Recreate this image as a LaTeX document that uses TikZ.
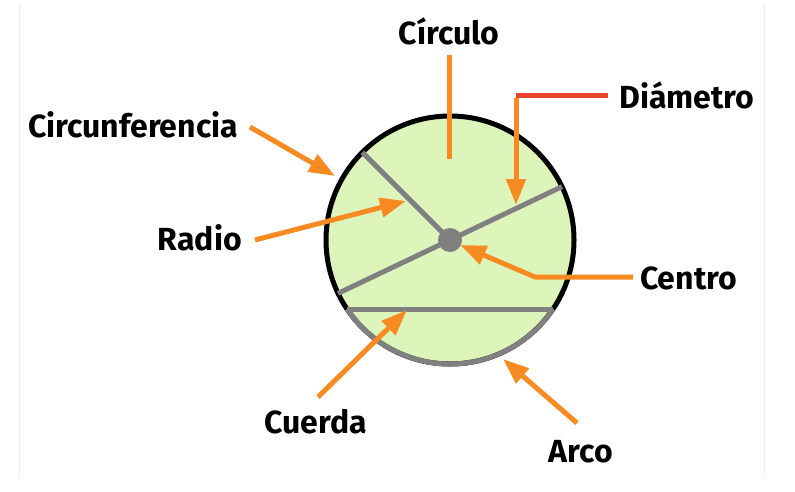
\documentclass[tikz,border=0pt]{standalone}
\usepackage{fontspec}
\setmainfont{Fira Sans}
\usetikzlibrary{arrows.meta,calc}
\definecolor{fillgreen}{HTML}{DDF5BB}
\definecolor{arrorange}{HTML}{F88A22}
\definecolor{linered}{HTML}{E8452C}
\definecolor{linegray}{HTML}{808080}
\definecolor{framegray}{HTML}{EEEEEE}
\tikzset{
  lbl/.style={font=\fontsize{32}{32}\selectfont\bfseries, text=black, inner sep=0pt},
  pointer/.style={draw=arrorange, line width=5pt, -{Triangle[length=26pt,width=19pt]}},
  plainline/.style={draw=arrorange, line width=5pt},
  geom/.style={draw=linegray, line width=5pt},
}
\begin{document}
\begin{tikzpicture}[x=1pt,y=-1pt]
\useasboundingbox (0,0) rectangle (795,491);
\fill[white] (0,0) rectangle (795,491);
% faint frame
\coordinate (fl1) at (19.5,3); \coordinate (fl2) at (19.5,478);
\coordinate (fr1) at (764,3); \coordinate (fr2) at (764,478);
\draw[framegray, line width=1pt] (fl1) -- (fl2);
\draw[framegray, line width=1pt] (fr1) -- (fr2);
% circle
\coordinate (O) at (450,240);
\fill[fillgreen] (O) circle (124);
\draw[black, line width=5pt] (O) circle (124);
% geometric elements
\coordinate (radend) at (362.3,152.3);
\coordinate (diamA) at (562,186.6);
\coordinate (diamB) at (338,293.4);
\coordinate (chordL) at (347,309);
\coordinate (chordR) at (553,309);
\draw[geom] (chordL) arc[start angle=146.2, end angle=33.8, radius=124];
\draw[geom] (radend) -- (O);
\draw[geom] (diamB) -- (diamA);
\draw[geom] (chordL) -- (chordR);
\fill[linegray] (O) circle (12);
% labels
\node[lbl, anchor=base] (circulo) at (449,44) {Círculo};
\node[lbl, anchor=base west] (diametro) at (619,108) {Diámetro};
\node[lbl, anchor=base west] (circunf) at (28,137) {Circunferencia};
\node[lbl, anchor=base east] (radio) at (242,250) {Radio};
\node[lbl, anchor=base west] (centro) at (640,289) {Centro};
\node[lbl, anchor=base] (cuerda) at (316,433) {Cuerda};
\node[lbl, anchor=base] (arco) at (581,462) {Arco};
% connector points
\coordinate (circTop) at (449,55);
\coordinate (circBot) at (449,159);
\coordinate (diamRedR) at (608,95);
\coordinate (diamCorner) at (516,95);
\coordinate (diamTip) at (516,205);
\coordinate (cfStart) at (250,127);
\coordinate (cfTip) at (335,176);
\coordinate (radStart) at (255,240);
\coordinate (radTip) at (406,201);
\coordinate (cenStart) at (633,277);
\coordinate (cenKink) at (535,277);
\coordinate (cenTip) at (460,245);
\coordinate (cuStart) at (318,397);
\coordinate (cuTip) at (407,310);
\coordinate (arStart) at (577,423);
\coordinate (arTip) at (503,359);
% connectors
\draw[plainline] (circTop) -- (circBot);
\draw[draw=linered, line width=5pt] (diamRedR) -- (diamCorner);
\draw[pointer] ([yshift=-2.5pt]diamCorner) -- (diamTip);
\draw[pointer] (cfStart) -- (cfTip);
\draw[pointer] (radStart) -- (radTip);
\draw[pointer] (cenStart) -- (cenKink) -- (cenTip);
\draw[pointer] (cuStart) -- (cuTip);
\draw[pointer] (arStart) -- (arTip);
\end{tikzpicture}
\end{document}
